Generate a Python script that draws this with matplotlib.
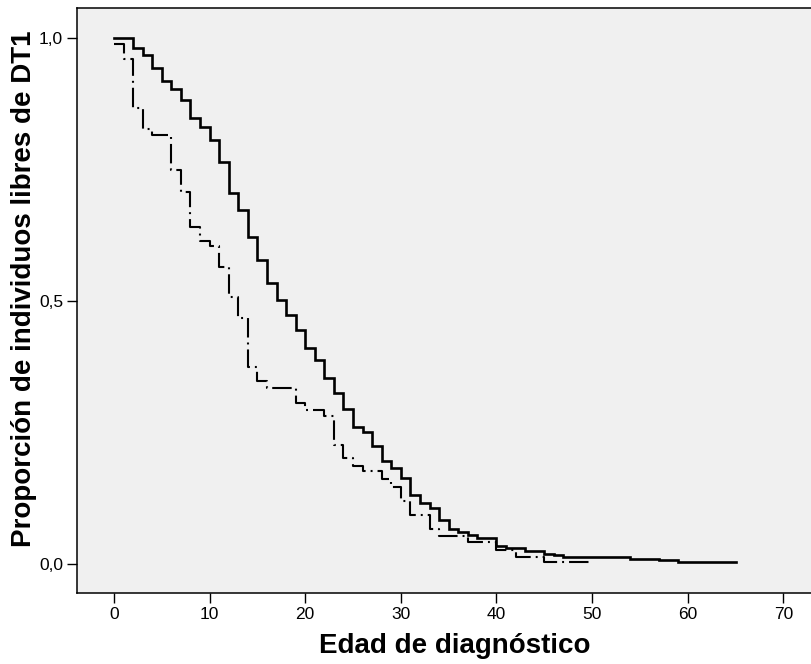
import numpy as np
import matplotlib
matplotlib.use('Agg')
import matplotlib.pyplot as plt

plt.rcParams['font.family'] = ['Liberation Sans', 'DejaVu Sans']
plt.rcParams['lines.scale_dashes'] = False

# edad (anos) y proporcion libre de DT1, grupo 1 (linea continua)
t_solid = [0, 2, 3, 4, 5, 6, 7, 8, 9, 10, 11, 12, 13, 14, 15, 16, 17, 18, 19, 20,
           21, 22, 23, 24, 25, 26, 27, 28, 29, 30, 31, 32, 33, 34, 35, 36, 37, 38,
           40, 41, 43, 45, 46, 47, 54, 57, 59, 65]
s_solid = [1.0, 0.981, 0.968, 0.942, 0.918, 0.903, 0.882, 0.848, 0.831, 0.806,
           0.764, 0.705, 0.673, 0.622, 0.578, 0.534, 0.501, 0.473, 0.445, 0.411,
           0.388, 0.354, 0.326, 0.295, 0.261, 0.251, 0.224, 0.195, 0.182, 0.164,
           0.132, 0.117, 0.106, 0.084, 0.067, 0.061, 0.056, 0.050, 0.034, 0.031,
           0.025, 0.020, 0.017, 0.013, 0.0095, 0.007, 0.004, 0.004]

# grupo 2 (linea de trazo y punto)
t_dash = [0, 1, 2, 3, 4, 6, 7, 8, 9, 10, 11, 12, 13, 14, 15, 16, 19, 20, 22, 23,
          24, 25, 26, 28, 29, 30, 31, 33, 34, 37, 40, 42, 45, 50]
s_dash = [0.989, 0.960, 0.866, 0.827, 0.816, 0.749, 0.708, 0.641, 0.615, 0.605,
          0.565, 0.507, 0.467, 0.374, 0.348, 0.334, 0.307, 0.293, 0.281, 0.226,
          0.201, 0.186, 0.176, 0.161, 0.147, 0.120, 0.093, 0.067, 0.053, 0.041,
          0.027, 0.014, 0.003, 0.003]

x_ticks = [0, 10, 20, 30, 40, 50, 60, 70]
y_ticks = [0.0, 0.5, 1.0]
y_ticklabels = ['0,0', '0,5', '1,0']

fig = plt.figure(figsize=(8.12, 6.64), dpi=100)
ax = fig.add_axes([77/812, 71/664, 735/812, 585/664])
ax.set_facecolor('#f0f0f0')

ax.step(t_solid, s_solid, where='post', color='black', lw=1.9,
        solid_joinstyle='miter')
ln, = ax.step(t_dash, s_dash, where='post', color='black', lw=1.5)
ln.set_dashes([14, 3.6, 1.4, 3.6])

ax.set_xlim(-3.87, 73.0)
ax.set_ylim(-0.055, 1.057)
ax.set_xticks(x_ticks)
ax.set_yticks(y_ticks)
ax.set_yticklabels(y_ticklabels)
ax.tick_params(direction='out', length=7, width=1, labelsize=12.5, pad=3)

for s in ['left', 'bottom', 'top']:
    ax.spines[s].set_linewidth(1.1)
ax.spines['right'].set_visible(False)

ax.set_xlabel('Edad de diagnóstico', fontsize=20, fontweight='bold')
ax.set_ylabel('Proporción de individuos libres de DT1', fontsize=20,
              fontweight='bold')
ax.xaxis.set_label_coords(0.514, -0.068)
ax.yaxis.set_label_coords(-0.054, 0.52)

fig.savefig('out.png', dpi=100)
